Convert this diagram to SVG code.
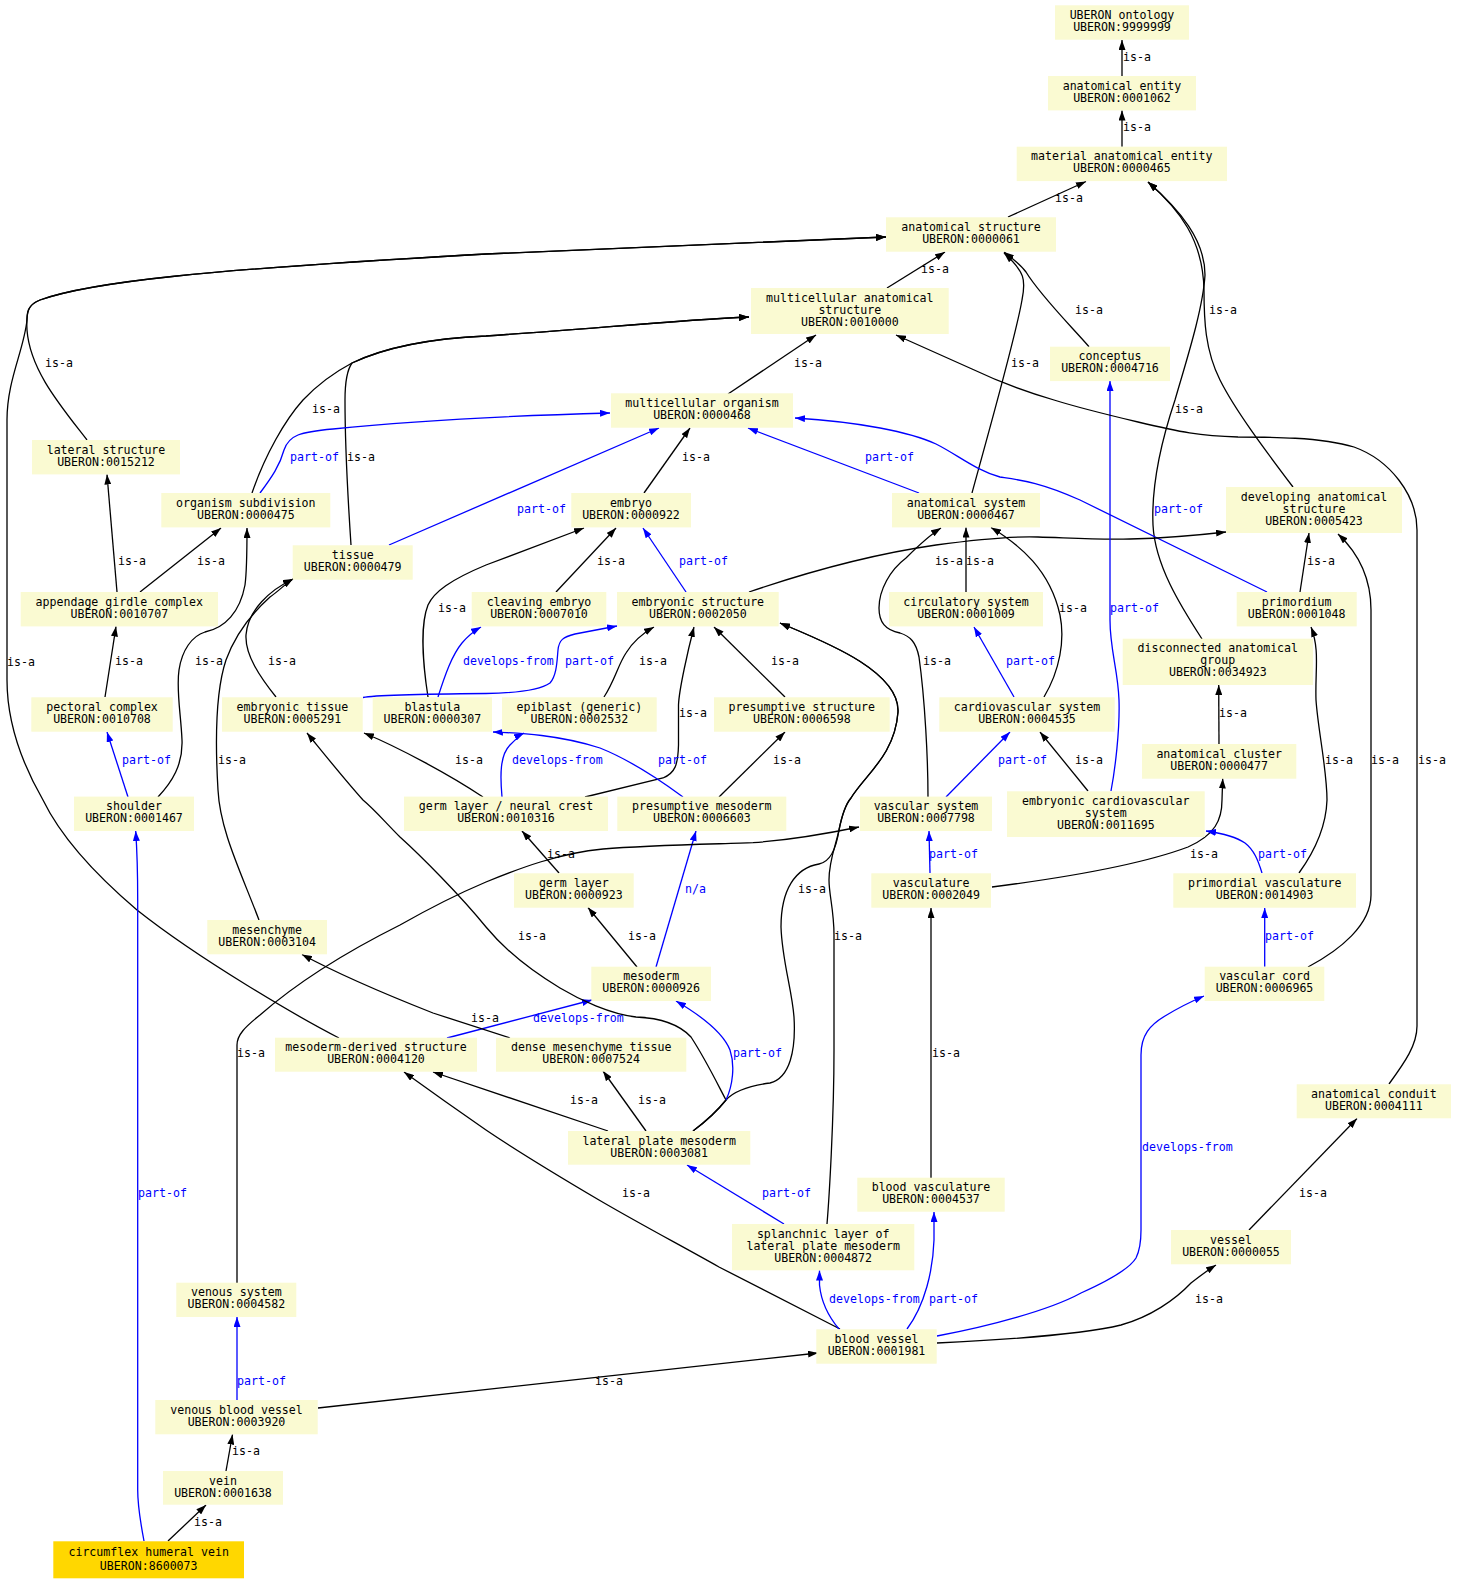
<svg xmlns="http://www.w3.org/2000/svg" width="1457" height="1584" viewBox="0 0 1457 1584">
<style>
.node rect{fill:#FAFAD2;stroke:none}
.node.focus rect{fill:#FFD700}
text{font-family:"DejaVu Sans Mono","Liberation Mono",monospace;font-size:11.6px;fill:#000}
.node text{text-anchor:middle}
.e{fill:none;stroke-width:1.3}
.k{stroke:#000;marker-end:url(#ak)}
.b{stroke:#0000FF;marker-end:url(#ab)}
.lb{fill:#0000FF}
</style>
<defs>
<marker id="ak" markerWidth="10" markerHeight="7" refX="10" refY="3.5" orient="auto" markerUnits="userSpaceOnUse"><path d="M0,0 L10,3.5 L0,7 z" fill="#000"/></marker>
<marker id="ab" markerWidth="10" markerHeight="7" refX="10" refY="3.5" orient="auto" markerUnits="userSpaceOnUse"><path d="M0,0 L10,3.5 L0,7 z" fill="#0000FF"/></marker>
</defs>
<rect width="1457" height="1584" fill="#fff"/>

<g id="edges">
<path class="e k" d="M1122,76 L1122,40"/>
<path class="e k" d="M1122,146.7 L1122,110.5"/>
<path class="e k" d="M1008,217 L1086,181.5"/>
<path class="e k" d="M887,288 L945,252"/>
<path class="e k" d="M1089,346.7 C1070,325 1040,295 1026,272 C1020,264 1012,258 1004,252"/>
<path class="e k" d="M972,493 C985,445 1015,340 1022,300 C1026,280 1025,272 1004,253"/>
<path class="e k" d="M728,394 L816,335"/>
<path class="e k" d="M1293,487 C1265,450 1235,410 1220,380 C1205,350 1204,320 1204,290 C1203,240 1180,210 1148,182"/>
<path class="e k" d="M1202,639 C1180,605 1155,565 1153,525 C1151,480 1165,430 1175,400 C1185,365 1203,310 1205,275 C1205,240 1180,210 1148,182"/>
<path class="e k" d="M87,440 C60,405 30,370 27,330 C26,310 28,305 40,300 C90,282 200,270 486,254 L886,237"/>
<path class="e k" d="M339,1038 C300,1018 200,960 137,910 C90,870 60,835 43,800 C20,760 7,720 7,680 L7,420 C7,380 24,350 27,320 C27,310 30,304 40,300 C90,282 200,270 486,254 L886,237"/>
<path class="e k" d="M252,493 C265,455 285,420 303,400 C320,382 335,372 352,363 C390,345 440,338 486,336 C600,328 680,320 749,317"/>
<path class="e k" d="M351,545 C348,500 345,440 345,400 C345,380 347,370 352,363 C390,345 440,338 486,336 C600,328 680,320 749,317"/>
<path class="e b" d="M260,493 C272,477 280,465 284,450 C289,435 300,432 333,429 C400,422 500,416 610,413"/>
<path class="e b" d="M389,545 L659,428"/>
<path class="e k" d="M644,493 L690,428"/>
<path class="e b" d="M919,493 L748,428"/>
<path class="e b" d="M1267,592 L1080,500 C1040,482 1020,480 1000,477 C975,470 958,455 936,444 C910,432 860,422 795,418"/>
<path class="e b" d="M686,592 L643,528"/>
<path class="e k" d="M556,592 L616,528"/>
<path class="e k" d="M428,697 C423,665 420,625 428,605 C434,592 450,580 486,565 L584,528"/>
<path class="e b" d="M438,697 C445,675 452,655 462,643 C468,636 474,631 481,627"/>
<path class="e b" d="M363,697.5 C375,695 420,694 486,693.5 C520,693 540,690 550,683 C557,675 557,660 558,650 C559,640 563,637 575,634 L617,626"/>
<path class="e k" d="M604,697 C615,680 618,665 626,653 C634,640 645,632 654,627"/>
<path class="e k" d="M585,797 L663,778 C675,773 678,765 678.5,745 L678.5,705 C679,690 688,650 694,627"/>
<path class="e k" d="M785,697 L714,627"/>
<path class="e k" d="M693,1131 C705,1122 718,1110 726,1100 C735,1090 755,1085 770,1083 C790,1078 796,1050 794,1017 C792,990 782,960 781,927 C781,890 795,868 819,864 C830,862 836,850 839,830 C842,815 845,805 851,798 C865,775 895,755 898,712 C900,670 820,640 780,623"/>
<path class="e k" d="M827,1224 C829,1200 834,1120 834,1050 L834,935 C834,910 829,895 829,880 C829,860 836,845 839,830 C842,815 845,805 851,798 C865,775 895,755 898,712 C900,670 820,640 780,623"/>
<path class="e k" d="M749,592 C790,578 860,556 936,545 C980,539 1010,536 1038,537 C1070,538 1100,540 1130,539 C1170,538 1200,535 1226,532"/>
<path class="e k" d="M966,592 L966,527.5"/>
<path class="e k" d="M928,797 C928,760 925,700 919,657 C916,642 910,636 900,633 C885,630 879,622 879,608 C879,590 890,570 906,558 C918,546 930,535 941,528"/>
<path class="e k" d="M1044,697 C1060,670 1065,640 1060,615 C1050,570 1020,545 991,527.5"/>
<path class="e b" d="M1014,697 L974,627"/>
<path class="e b" d="M946,797 L1010,732"/>
<path class="e k" d="M1088,791 L1040,732"/>
<path class="e b" d="M1111,791 C1115,770 1120,730 1119,700 C1118,670 1110,650 1110,620 L1110,381"/>
<path class="e k" d="M1300,592 L1309,533"/>
<path class="e k" d="M1299,873 C1312,855 1326,830 1327,800 C1327,770 1318,730 1316,700 C1315,670 1320,650 1311,627"/>
<path class="e k" d="M1308,967 C1340,950 1371,925 1371,895 L1371,610 C1371,575 1355,550 1338,534"/>
<path class="e k" d="M1389,1084 C1405,1062 1417,1045 1417,1026 L1417,530 C1417,495 1390,460 1354,447 C1320,437 1270,437 1238,437 C1200,436 1180,432 1138,422 C1100,413 1070,405 1054,400 C1020,390 995,380 972,369 L896,335"/>
<path class="e k" d="M1219,744 L1218.7,685"/>
<path class="e k" d="M992,887 C1070,877 1140,865 1188,847 C1215,835 1222,820 1222,800 L1222.7,778.5"/>
<path class="e b" d="M930,873 L929,831"/>
<path class="e b" d="M1262,873 C1258,860 1254,850 1245,843 C1235,836 1220,833 1206,831"/>
<path class="e b" d="M1264.7,966.7 L1264.7,908"/>
<path class="e k" d="M105,697 L116,626.5"/>
<path class="e k" d="M117,592 L107,474.5"/>
<path class="e k" d="M140,592 L221,528"/>
<path class="e b" d="M128,797 L107,732"/>
<path class="e k" d="M158,797 C172,782 183,765 182,740 C181,715 176,690 179,670 C182,650 192,636 205,632 C225,628 240,612 245,585 C247,570 247,550 247,528"/>
<path class="e k" d="M276,697 C260,677 245,655 246,635 C248,610 270,590 293,579"/>
<path class="e k" d="M259,920 C240,870 220,830 218,790 C215,740 216,690 226,660 C234,638 250,615 270,597 C280,590 285,584 293,579"/>
<path class="e k" d="M483,797 C450,775 400,748 364,733"/>
<path class="e b" d="M502,797 C500,775 500,755 510,745 C515,740 520,735 524,733"/>
<path class="e b" d="M683,797 C660,780 630,760 600,748 C560,735 520,733 493,732"/>
<path class="e k" d="M559,873 L522,831"/>
<path class="e k" d="M719,797 L785,732"/>
<path class="e k" d="M637,967 L588,907.5"/>
<path class="e b" d="M656,967 L696,831"/>
<path class="e k" d="M237,1283 L237,1045 C237,1035 245,1027 260,1015 C300,980 350,950 400,925 C430,908 460,893 486,882 C520,868 560,853 603,849 C650,845 720,844 753,842.7 C790,840 830,833 859,827"/>
<path class="e b" d="M447,1038 L592,1000"/>
<path class="e k" d="M510,1038 C495,1033 470,1025 433,1013 C400,1000 340,975 302,954.5"/>
<path class="e k" d="M693,1131 C705,1122 718,1110 726,1100 C718,1085 706,1060 691,1037 C680,1025 660,1018 636,1017 C610,1014 580,1000 560,988 C530,970 505,950 486,927 C460,895 420,855 400,837 C385,822 375,810 363,800 C345,780 325,755 307,733"/>
<path class="e b" d="M726,1100 C733,1085 735,1065 730,1050 C724,1035 705,1018 676,1001"/>
<path class="e k" d="M608,1131 L433,1072"/>
<path class="e k" d="M646,1131 L603,1071"/>
<path class="e b" d="M784,1224 L687,1165"/>
<path class="e k" d="M840,1329 L719,1267 C680,1245 640,1224 599,1200 C560,1177 520,1153 486,1130 C460,1112 440,1098 404,1072"/>
<path class="e b" d="M839,1329 C828,1316 821,1300 819.5,1285 L819.5,1270.5"/>
<path class="e b" d="M907,1329 C925,1305 933,1270 934,1240 L934,1212"/>
<path class="e k" d="M931,1178 L931,908"/>
<path class="e b" d="M937,1336 C990,1326 1050,1310 1081,1293 C1110,1280 1130,1268 1136,1258 C1140,1250 1141,1240 1141,1230 L1141,1055 C1141,1035 1150,1025 1165,1016 C1178,1008 1190,1002 1204,996"/>
<path class="e k" d="M937,1343 C1000,1340 1080,1335 1121,1325 C1150,1317 1175,1300 1191,1283 C1200,1276 1208,1270 1216,1265"/>
<path class="e k" d="M1249,1230 L1357,1118.5"/>
<path class="e k" d="M318,1408 L818,1353"/>
<path class="e b" d="M237,1400 L237,1317"/>
<path class="e k" d="M226,1471 L232.5,1434.5"/>
<path class="e k" d="M168,1541 L206,1505"/>
<path class="e b" d="M144,1541 C140,1520 137.7,1505 137.7,1490 L137.7,900 C137.7,870 137,850 135.7,831"/>
</g>

<g id="edge-labels">
<text x="1123" y="61">is-a</text>
<text x="1123" y="131">is-a</text>
<text x="1055" y="202">is-a</text>
<text x="921" y="273">is-a</text>
<text x="1075" y="314">is-a</text>
<text x="1011" y="367">is-a</text>
<text x="794" y="367">is-a</text>
<text x="1209" y="314">is-a</text>
<text x="1175" y="413">is-a</text>
<text x="45" y="367">is-a</text>
<text x="7" y="666">is-a</text>
<text x="312" y="413">is-a</text>
<text x="347" y="461">is-a</text>
<text class="lb" x="290" y="461">part-of</text>
<text class="lb" x="517" y="513">part-of</text>
<text x="682" y="461">is-a</text>
<text class="lb" x="865" y="461">part-of</text>
<text class="lb" x="1154" y="513">part-of</text>
<text class="lb" x="679" y="565">part-of</text>
<text x="597" y="565">is-a</text>
<text x="438" y="612">is-a</text>
<text class="lb" x="463" y="665">develops-from</text>
<text class="lb" x="565" y="665">part-of</text>
<text x="639" y="665">is-a</text>
<text x="679" y="717">is-a</text>
<text x="771" y="665">is-a</text>
<text x="798" y="893">is-a</text>
<text x="834" y="940">is-a</text>
<text x="935" y="565">is-a</text>
<text x="966" y="565">is-a</text>
<text x="923" y="665">is-a</text>
<text x="1059" y="612">is-a</text>
<text class="lb" x="1006" y="665">part-of</text>
<text class="lb" x="998" y="764">part-of</text>
<text x="1075" y="764">is-a</text>
<text class="lb" x="1110" y="612">part-of</text>
<text x="1307" y="565">is-a</text>
<text x="1325" y="764">is-a</text>
<text x="1371" y="764">is-a</text>
<text x="1418" y="764">is-a</text>
<text x="1219" y="717">is-a</text>
<text x="1190" y="858">is-a</text>
<text class="lb" x="929" y="858">part-of</text>
<text class="lb" x="1258" y="858">part-of</text>
<text class="lb" x="1265" y="940">part-of</text>
<text x="115" y="665">is-a</text>
<text x="118" y="565">is-a</text>
<text x="197" y="565">is-a</text>
<text class="lb" x="122" y="764">part-of</text>
<text x="195" y="665">is-a</text>
<text x="268" y="665">is-a</text>
<text x="218" y="764">is-a</text>
<text x="455" y="764">is-a</text>
<text class="lb" x="512" y="764">develops-from</text>
<text class="lb" x="658" y="764">part-of</text>
<text x="547" y="858">is-a</text>
<text x="773" y="764">is-a</text>
<text x="628" y="940">is-a</text>
<text class="lb" x="685" y="893">n/a</text>
<text x="237" y="1057">is-a</text>
<text class="lb" x="533" y="1022">develops-from</text>
<text x="471" y="1022">is-a</text>
<text x="518" y="940">is-a</text>
<text class="lb" x="733" y="1057">part-of</text>
<text x="570" y="1104">is-a</text>
<text x="638" y="1104">is-a</text>
<text class="lb" x="762" y="1197">part-of</text>
<text x="622" y="1197">is-a</text>
<text class="lb" x="829" y="1303">develops-from</text>
<text class="lb" x="929" y="1303">part-of</text>
<text x="932" y="1057">is-a</text>
<text class="lb" x="1142" y="1151">develops-from</text>
<text x="1195" y="1303">is-a</text>
<text x="1299" y="1197">is-a</text>
<text x="595" y="1385">is-a</text>
<text class="lb" x="237" y="1385">part-of</text>
<text x="232" y="1455">is-a</text>
<text x="194" y="1526">is-a</text>
<text class="lb" x="138" y="1197">part-of</text>
</g>

<g id="n9999999" class="node"><rect x="1055" y="5.3" width="134" height="34.4"/><text x="1122" y="19">UBERON ontology<tspan x="1122" dy="12">UBERON:9999999</tspan></text></g>
<g id="n0001062" class="node"><rect x="1048" y="76" width="148" height="34.4"/><text x="1122" y="89.6">anatomical entity<tspan x="1122" dy="12">UBERON:0001062</tspan></text></g>
<g id="n0000465" class="node"><rect x="1016.7" y="146.7" width="210.3" height="34.4"/><text x="1121.8" y="160.3">material anatomical entity<tspan x="1121.8" dy="12">UBERON:0000465</tspan></text></g>
<g id="n0000061" class="node"><rect x="886" y="217.3" width="170" height="34.4"/><text x="971" y="230.9">anatomical structure<tspan x="971" dy="12">UBERON:0000061</tspan></text></g>
<g id="n0010000" class="node"><rect x="751" y="288" width="197.7" height="46"/><text x="849.8" y="301.6">multicellular anatomical<tspan x="849.8" dy="12">structure</tspan><tspan x="849.8" dy="12">UBERON:0010000</tspan></text></g>
<g id="n0004716" class="node"><rect x="1050" y="346.7" width="120" height="34.4"/><text x="1110" y="360.3">conceptus<tspan x="1110" dy="12">UBERON:0004716</tspan></text></g>
<g id="n0000468" class="node"><rect x="611" y="393.3" width="182" height="34.4"/><text x="702" y="406.9">multicellular organism<tspan x="702" dy="12">UBERON:0000468</tspan></text></g>
<g id="n0015212" class="node"><rect x="32" y="440" width="148" height="34.4"/><text x="106" y="453.6">lateral structure<tspan x="106" dy="12">UBERON:0015212</tspan></text></g>
<g id="n0000475" class="node"><rect x="161.3" y="493" width="169" height="34.4"/><text x="245.8" y="506.6">organism subdivision<tspan x="245.8" dy="12">UBERON:0000475</tspan></text></g>
<g id="n0000479" class="node"><rect x="292.7" y="545.3" width="120" height="34.4"/><text x="352.7" y="558.9">tissue<tspan x="352.7" dy="12">UBERON:0000479</tspan></text></g>
<g id="n0000922" class="node"><rect x="571.3" y="493" width="119.7" height="34.4"/><text x="631" y="506.6">embryo<tspan x="631" dy="12">UBERON:0000922</tspan></text></g>
<g id="n0000467" class="node"><rect x="892" y="493" width="148" height="34.4"/><text x="966" y="506.6">anatomical system<tspan x="966" dy="12">UBERON:0000467</tspan></text></g>
<g id="n0005423" class="node"><rect x="1226" y="487" width="176" height="46"/><text x="1314" y="500.6">developing anatomical<tspan x="1314" dy="12">structure</tspan><tspan x="1314" dy="12">UBERON:0005423</tspan></text></g>
<g id="n0010707" class="node"><rect x="20.7" y="592" width="197.3" height="34.4"/><text x="119.3" y="605.6">appendage girdle complex<tspan x="119.3" dy="12">UBERON:0010707</tspan></text></g>
<g id="n0007010" class="node"><rect x="471.7" y="592" width="134.6" height="34.4"/><text x="539" y="605.6">cleaving embryo<tspan x="539" dy="12">UBERON:0007010</tspan></text></g>
<g id="n0002050" class="node"><rect x="617" y="592" width="161.7" height="34.4"/><text x="697.8" y="605.6">embryonic structure<tspan x="697.8" dy="12">UBERON:0002050</tspan></text></g>
<g id="n0001009" class="node"><rect x="889" y="592" width="154" height="34.4"/><text x="966" y="605.6">circulatory system<tspan x="966" dy="12">UBERON:0001009</tspan></text></g>
<g id="n0001048" class="node"><rect x="1236.7" y="592" width="120" height="34.4"/><text x="1296.7" y="605.6">primordium<tspan x="1296.7" dy="12">UBERON:0001048</tspan></text></g>
<g id="n0034923" class="node"><rect x="1122.7" y="638.7" width="190.3" height="46.3"/><text x="1217.8" y="652.3">disconnected anatomical<tspan x="1217.8" dy="12">group</tspan><tspan x="1217.8" dy="12">UBERON:0034923</tspan></text></g>
<g id="n0010708" class="node"><rect x="31.3" y="697.3" width="141.4" height="34.4"/><text x="102" y="710.9">pectoral complex<tspan x="102" dy="12">UBERON:0010708</tspan></text></g>
<g id="n0005291" class="node"><rect x="222" y="697.3" width="140.7" height="34.4"/><text x="292.3" y="710.9">embryonic tissue<tspan x="292.3" dy="12">UBERON:0005291</tspan></text></g>
<g id="n0000307" class="node"><rect x="372.7" y="697.3" width="119.3" height="34.4"/><text x="432.3" y="710.9">blastula<tspan x="432.3" dy="12">UBERON:0000307</tspan></text></g>
<g id="n0002532" class="node"><rect x="502" y="697.3" width="154.7" height="34.4"/><text x="579.3" y="710.9">epiblast (generic)<tspan x="579.3" dy="12">UBERON:0002532</tspan></text></g>
<g id="n0006598" class="node"><rect x="714" y="697.3" width="175.7" height="34.4"/><text x="801.8" y="710.9">presumptive structure<tspan x="801.8" dy="12">UBERON:0006598</tspan></text></g>
<g id="n0004535" class="node"><rect x="939.3" y="697.3" width="175.4" height="34.4"/><text x="1027" y="710.9">cardiovascular system<tspan x="1027" dy="12">UBERON:0004535</tspan></text></g>
<g id="n0000477" class="node"><rect x="1142" y="744" width="154.3" height="34.7"/><text x="1219.2" y="757.6">anatomical cluster<tspan x="1219.2" dy="12">UBERON:0000477</tspan></text></g>
<g id="n0001467" class="node"><rect x="74" y="796.6" width="120" height="34.4"/><text x="134" y="810.2">shoulder<tspan x="134" dy="12">UBERON:0001467</tspan></text></g>
<g id="n0010316" class="node"><rect x="404" y="796.6" width="204" height="34.4"/><text x="506" y="810.2">germ layer / neural crest<tspan x="506" dy="12">UBERON:0010316</tspan></text></g>
<g id="n0006603" class="node"><rect x="617.3" y="796.6" width="169" height="34.4"/><text x="701.8" y="810.2">presumptive mesoderm<tspan x="701.8" dy="12">UBERON:0006603</tspan></text></g>
<g id="n0007798" class="node"><rect x="860" y="796.6" width="132" height="34.4"/><text x="926" y="810.2">vascular system<tspan x="926" dy="12">UBERON:0007798</tspan></text></g>
<g id="n0011695" class="node"><rect x="1007" y="791.3" width="197.7" height="45.7"/><text x="1105.8" y="804.9">embryonic cardiovascular<tspan x="1105.8" dy="12">system</tspan><tspan x="1105.8" dy="12">UBERON:0011695</tspan></text></g>
<g id="n0000923" class="node"><rect x="514" y="873.3" width="119.7" height="34.4"/><text x="573.8" y="886.9">germ layer<tspan x="573.8" dy="12">UBERON:0000923</tspan></text></g>
<g id="n0002049" class="node"><rect x="871.3" y="873.3" width="119.7" height="34.4"/><text x="931.2" y="886.9">vasculature<tspan x="931.2" dy="12">UBERON:0002049</tspan></text></g>
<g id="n0014903" class="node"><rect x="1173.3" y="873.3" width="182.7" height="34.4"/><text x="1264.7" y="886.9">primordial vasculature<tspan x="1264.7" dy="12">UBERON:0014903</tspan></text></g>
<g id="n0003104" class="node"><rect x="207.3" y="920" width="119.7" height="34.3"/><text x="267.2" y="933.6">mesenchyme<tspan x="267.2" dy="12">UBERON:0003104</tspan></text></g>
<g id="n0000926" class="node"><rect x="591.3" y="966.7" width="119.7" height="34.3"/><text x="651.2" y="980.3">mesoderm<tspan x="651.2" dy="12">UBERON:0000926</tspan></text></g>
<g id="n0006965" class="node"><rect x="1204.7" y="966.7" width="119.6" height="34.3"/><text x="1264.5" y="980.3">vascular cord<tspan x="1264.5" dy="12">UBERON:0006965</tspan></text></g>
<g id="n0004120" class="node"><rect x="275" y="1037.7" width="202" height="34"/><text x="376" y="1051.3">mesoderm-derived structure<tspan x="376" dy="12">UBERON:0004120</tspan></text></g>
<g id="n0007524" class="node"><rect x="496" y="1037.7" width="190.3" height="34"/><text x="591.2" y="1051.3">dense mesenchyme tissue<tspan x="591.2" dy="12">UBERON:0007524</tspan></text></g>
<g id="n0004111" class="node"><rect x="1296.7" y="1084.3" width="154.3" height="34"/><text x="1373.8" y="1097.9">anatomical conduit<tspan x="1373.8" dy="12">UBERON:0004111</tspan></text></g>
<g id="n0003081" class="node"><rect x="568" y="1131" width="182.3" height="33.7"/><text x="659.2" y="1144.6">lateral plate mesoderm<tspan x="659.2" dy="12">UBERON:0003081</tspan></text></g>
<g id="n0004537" class="node"><rect x="857.3" y="1177.7" width="147.4" height="34"/><text x="931" y="1191.3">blood vasculature<tspan x="931" dy="12">UBERON:0004537</tspan></text></g>
<g id="n0004872" class="node"><rect x="732" y="1224" width="182.3" height="46.3"/><text x="823.2" y="1237.6">splanchnic layer of<tspan x="823.2" dy="12">lateral plate mesoderm</tspan><tspan x="823.2" dy="12">UBERON:0004872</tspan></text></g>
<g id="n0000055" class="node"><rect x="1171" y="1230" width="120" height="34.3"/><text x="1231" y="1243.6">vessel<tspan x="1231" dy="12">UBERON:0000055</tspan></text></g>
<g id="n0004582" class="node"><rect x="176.3" y="1282.7" width="120" height="34.3"/><text x="236.3" y="1296.3">venous system<tspan x="236.3" dy="12">UBERON:0004582</tspan></text></g>
<g id="n0001981" class="node"><rect x="816.3" y="1329.3" width="120.4" height="34.4"/><text x="876.5" y="1342.9">blood vessel<tspan x="876.5" dy="12">UBERON:0001981</tspan></text></g>
<g id="n0003920" class="node"><rect x="155.3" y="1400" width="162.4" height="34.3"/><text x="236.5" y="1413.6">venous blood vessel<tspan x="236.5" dy="12">UBERON:0003920</tspan></text></g>
<g id="n0001638" class="node"><rect x="163" y="1471" width="120" height="33.7"/><text x="223" y="1484.6">vein<tspan x="223" dy="12">UBERON:0001638</tspan></text></g>
<g id="n8600073" class="node focus"><rect x="53.3" y="1541.3" width="190.7" height="37"/><text x="148.7" y="1555.6">circumflex humeral vein<tspan x="148.7" dy="14">UBERON:8600073</tspan></text></g>
</svg>
